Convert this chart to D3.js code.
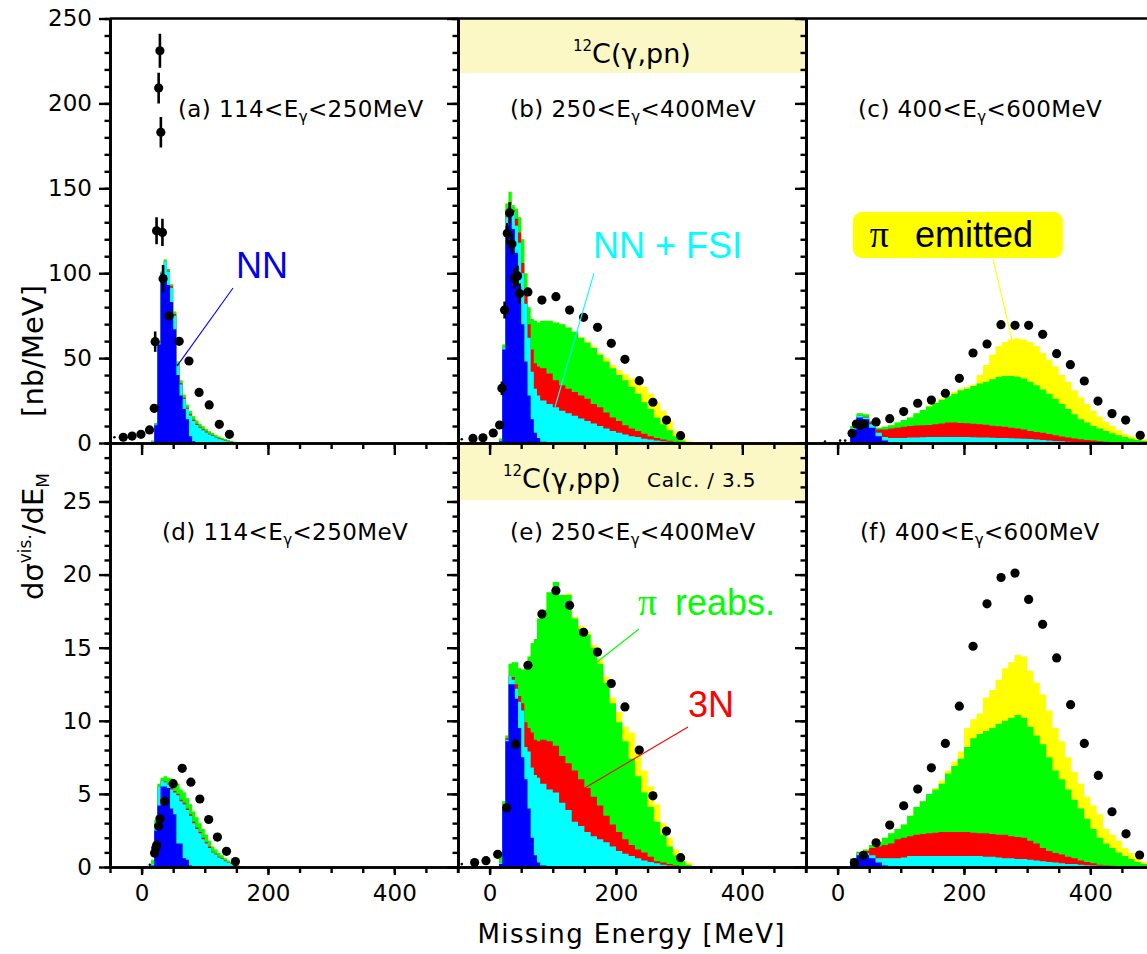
<!DOCTYPE html>
<html><head><meta charset="utf-8">
<script src="https://cdn.jsdelivr.net/npm/d3@7"></script>
<style>body{margin:0;background:#fff;}svg{display:block;}</style>
</head><body><svg id="c" width="1147" height="954"></svg>
<script>
// ---------------- DATA ----------------
// bin edges (MeV)
const edgesLow  = [15,20,25,30,35,40,45,50,55,60,65,70,75,80,85,90,95,100,105,110,115,120,125,130,135,140,145,150,155,160];
const edgesMid  = [15,20,25,30,35,40,45,50,55,60,65,70,75,80,90,100,110,120,130,140,150,160,170,180,190,200,210,220,230,240,250,260,270,280,290,300,310,320];
const edgesHigh = [20,30,40,50,60,70,80,90,100,110,120,130,140,150,160,170,180,190,200,210,220,230,240,250,260,270,280,290,300,310,320,330,340,350,360,370,380,390,400,410,420,430,440,450,460,470,480,490,500];

// Stacked calculation: upper edge of each stacked layer (NN, +FSI, +3N, +pi reabs., +pi emitted)
// (a) 12C(g,pn) 114<Eg<250 MeV   [nb/MeV]
const aNN    = [0.5,10.5,58,100,99,93,83,67,40,28,20,14,4,1,0.3,0,0,0,0,0,0,0,0,0,0,0,0,0,0];
const aFSI   = [1,10.8,59,100.5,107,101,91.5,75,45.8,34.5,25.9,20.1,16.2,13,10.6,9,7.5,6.2,5,4.2,3.2,2.5,1.9,1.3,0.9,0.5,0.3,0.1,0.1];
const a3N    = [1,10.8,59,100.5,107,101.5,92.5,76,46.5,35.2,26.6,20.8,16.9,13.7,11.3,9.6,8.1,6.7,5.5,4.7,3.6,2.9,2.2,1.6,1.1,0.7,0.4,0.2,0.1];
const aReabs = [1.5,11.8,60,101,108,102.5,93.5,77.5,48,37,28.4,22.6,18.7,15.7,13.3,11.4,9.8,8.2,6.9,5.9,4.7,3.9,3.1,2.4,1.8,1.2,0.8,0.4,0.2];
const aEmit  = [1.5,11.8,60,101,108,102.5,93.5,77.5,48,37,28.4,22.6,18.7,15.7,13.3,11.4,9.8,8.2,6.9,5.9,4.7,3.9,3.1,2.4,1.8,1.2,0.8,0.4,0.2];
// (b) 250<Eg<400 MeV
const bNN    = [1,55,128,134,126,112,92,70,48,28,14,6,3, 0.8,0.2,0,0,0,0,0,0,0,0,0,0,0,0,0,0,0,0,0,0,0,0,0,0];
const bFSI   = [1.5,56,133,141,136,128,118,100,82,62,42,32,28, 25,23,21,19,17.5,16,14.5,13,11.5,10,8.5,7,6,5,4,3.5,2.5,2,1.5,1,0.7,0.4,0.2,0.1];
const b3N    = [1.5,56,135,142,137,132,124,106,88,70,55,47,45, 44,41,37,34,32,30,28,26,23,21,18,15,13,10.5,8.5,7,5.5,4,3,2,1.3,0.8,0.4,0.2];
const bReabs = [2.7,58,141,148,140,138,133,120,100,80,73,72,71, 72,72,71,70,68,65.5,62,59,56,52,48,44,40,37,33,29,24,20,15,11,7.5,4,1.5,0.5];
const bEmit  = [2.7,58,141,148,140,138,133,120,100,80,73,72,71, 72,72,71,70,68,65.5,62.5,60,57,53,50,46,43,40.5,38,36,33,29,24,19,13,7,3,1];
// (c) 400<Eg<600 MeV
const cNN    = [8,15,14,9,4,1.5,0.3,0,0,0, 0,0,0,0,0,0,0,0,0,0, 0,0,0,0,0,0,0,0,0,0, 0,0,0,0,0,0,0,0,0,0, 0,0,0,0,0,0,0,0];
const cFSI   = [9,16,15,11,6,3.5,3,3,3,3.2, 3.3,3.4,3.5,3.5,3.5,3.6,3.6,3.5,3.5,3.4, 3.3,3.2,3.1,3,2.9,2.8,2.7,2.5,2.3,2, 1.8,1.5,1.2,1,0.8,0.6,0.5,0.4,0.3,0.2, 0.1,0.1,0.1,0,0,0,0,0];
const c3N    = [9,16,15.5,12,8,8,8.5,9,9.5,10, 10.3,10.5,10.6,11,11.5,12,12,11.8,11.6,11.3, 11,10.7,10.2,9.8,9.5,9,8.6,8,7,6.5, 6,5.3,4.5,3.8,3.2,2.6,2.2,1.8,1.4,1, 0.8,0.6,0.4,0.3,0.2,0.1,0.1,0];
const cReabs = [10,17.5,17,13,9,9.5,10.5,12,13.5,15, 17.5,19.5,21.5,23.5,25.5,27.5,29,31,32,33.5, 35,36,37.5,39,39.5,39.5,39,38,36,34, 31.5,29,26,23,20,17,14,12,10,8.5, 7,5.8,4.6,3.5,2.6,1.8,1.2,0.8];
const cEmit  = [10,17.5,17,13,9,9.5,10.5,12,13.5,15, 17.5,19.5,22,24,26,28,30,32,33,34.5, 40,46,52,57,59.5,61,61.5,61,59.5,57, 53,49,45,40,36,31,27,23,19,15.5, 12.5,10,7.5,5.5,4,3,2,1.2];
// (d) 12C(g,pp) 114<Eg<250 MeV (calc./3.5)
const dNN    = [0.1,2.5,4.2,5.5,5.5,5.4,4.0,3.6,1.6,1.6, 0.6,0.5,0.1,0,0,0,0,0,0,0, 0,0,0,0,0,0,0,0,0];
const dFSI   = [0.2,2.9,5.5,5.9,5.8,5.65,5.3,5.1,4.9,4.5, 4.3,3.9,3.5,3.0,2.6,2.3,1.9,1.6,1.3,1.0, 0.85,0.65,0.55,0.4,0.3,0.2,0.12,0.06,0.03];
const d3N    = [0.2,2.9,5.5,5.9,5.85,5.7,5.4,5.2,5.0,4.6, 4.4,4.0,3.6,3.1,2.7,2.4,2.0,1.7,1.4,1.05, 0.9,0.7,0.6,0.45,0.35,0.23,0.15,0.08,0.03];
const dReabs = [0.5,3.2,5.7,6.1,6.2,6.1,6.05,5.9,5.7,5.3, 5.1,4.7,4.3,3.8,3.4,3.0,2.6,2.2,1.8,1.4, 1.2,0.95,0.8,0.6,0.45,0.3,0.2,0.1,0.05];
const dEmit  = [0.5,3.2,5.7,6.1,6.2,6.1,6.05,5.9,5.7,5.3, 5.1,4.7,4.3,3.8,3.4,3.0,2.6,2.2,1.8,1.4, 1.2,0.95,0.8,0.6,0.45,0.3,0.2,0.1,0.05];
// (e) 250<Eg<400 MeV
const eNN    = [0.2,4,8.6,12.5,12.5,11.5,9.5,7.5,6,4,2,0.8,0.3, 0.1,0,0,0,0,0,0,0,0,0,0,0,0,0,0,0,0,0,0,0,0,0,0,0];
const eFSI   = [0.3,4.2,8.7,13.1,12.8,12.2,11.3,10.7,8.2,7.9,6.8,6.3,6.1, 5.7,5.3,5.1,4.4,3.9,3.1,2.8,2.4,2.1,1.9,1.7,1.4,1.1,0.9,0.75,0.6,0.45,0.35,0.25,0.15,0.1,0.05,0,0];
const e3N    = [0.3,4.3,8.8,13.1,13.0,12.5,11.7,11.2,9.9,9.5,9.2,8.7,8.6, 8.7,8.6,8.3,7.6,7.1,6.6,6.0,5.4,4.8,4.2,3.5,2.9,2.4,1.9,1.5,1.2,1.0,0.7,0.4,0.3,0.2,0.1,0.05,0];
const eReabs = [0.8,4.5,9.0,13.9,14.0,14.0,13.6,13.5,13.9,14.4,15.3,15.6,17.0, 17.6,18.8,19.5,18.6,18.6,17.0,16.3,15.9,15.0,13.9,12.6,11.2,9.9,8.6,7.4,6.2,5.1,4.1,3.1,2.2,1.4,0.8,0.4,0.15];
const eEmit  = [0.8,4.5,9.0,13.9,14.0,14.0,13.6,13.5,13.9,14.4,15.3,15.6,17.0, 17.6,18.8,19.5,18.6,18.7,17.1,16.5,16.1,15.2,14.2,13.0,11.6,10.6,9.6,9.2,8.0,6.6,5.5,4.3,3.0,2.0,1.2,0.7,0.3];
// (f) 400<Eg<600 MeV
const fNN    = [0.4,0.8,0.8,0.6,0.3,0.1,0,0,0,0, 0,0,0,0,0,0,0,0,0,0, 0,0,0,0,0,0,0,0,0,0, 0,0,0,0,0,0,0,0,0,0, 0,0,0,0,0,0,0,0];
const fFSI   = [0.45,0.95,0.95,0.8,0.6,0.6,0.6,0.6,0.65,0.75, 0.75,0.75,0.75,0.75,0.75,0.75,0.75,0.75,0.75,0.75, 0.75,0.7,0.7,0.65,0.6,0.6,0.55,0.55,0.5,0.45, 0.4,0.35,0.3,0.25,0.2,0.2,0.15,0.12,0.1,0.08, 0.05,0.04,0.03,0.02,0.01,0,0,0];
const f3N    = [0.5,1.0,1.1,1.3,1.4,1.5,1.6,1.9,2.0,2.1, 2.2,2.25,2.3,2.35,2.4,2.4,2.4,2.4,2.4,2.35, 2.3,2.3,2.25,2.2,2.2,2.1,2.05,2.0,1.8,1.6, 1.3,1.1,0.95,0.85,0.7,0.6,0.45,0.35,0.25,0.15, 0.1,0.08,0.05,0.03,0.02,0.01,0,0];
const fReabs = [0.6,1.05,1.2,1.5,1.7,2.0,2.3,2.6,2.9,3.5, 4.1,4.5,5.0,5.3,5.7,6.4,6.9,7.4,8.2,8.8, 9.1,9.3,9.5,9.8,10.0,10.2,10.4,10.2,9.6,9.0, 8.4,7.5,6.6,6.0,5.3,4.6,4.0,3.3,2.6,2.0, 1.6,1.3,1.0,0.75,0.55,0.35,0.2,0.1];
const fEmit  = [0.6,1.05,1.2,1.5,1.7,2.0,2.3,2.6,2.9,3.5, 4.1,4.5,5.0,5.4,5.9,6.6,7.2,7.9,9.5,10.1, 10.5,11.6,12.1,12.8,13.6,14.0,14.5,14.4,13.4,12.6, 11.8,10.7,9.5,8.6,7.5,6.5,5.7,4.8,4.2,3.6, 2.6,2.2,1.8,1.3,0.95,0.6,0.35,0.2];

// Measured points: [missing energy, value, error]
const aPts = [[-29,3.4,0],[-15,4.1,0],[-1,5.1,0],[12.6,7.7,0],[20,20.4,2.5],[21.5,59.7,6],[23.7,125,8],[33,124,8],[27,209,9],[29,231,10],[30.5,183,9],[34,96.8,8],[43.7,74.8,0],[59.5,59.9,0],[75,48.3,0],[91,29.8,0],[107,22.4,0],[123,11,0],[139,5.1,0]];
const bPts = [[-26.3,2.7,0],[-10.5,3.1,0],[5.8,5.9,0],[15.8,10.6,0],[19.5,32.2,4],[23.8,78.3,5],[28,123.5,6],[31.7,135.6,6],[35.4,117.2,6],[39.6,97,6],[44.3,98.4,6],[47.5,88,6],[60.7,89,0],[82.8,84.2,0],[105,86.2,0],[126.6,78.3,0],[148.8,74,0],[170.9,68.1,0],[192.6,58.7,0],[214.2,49.3,0],[236.9,36.7,0],[258.5,24,0],[280,13.5,0],[302.3,4.3,0]];
const cPts = [[22.9,5.7,0],[29.7,11.2,0],[36,10.4,0],[41.4,11.2,0],[60.9,12.4,0],[82.5,14.3,0],[104.6,18.5,0],[126.8,23.4,0],[148.4,25.3,0],[170.6,29.3,0],[192.7,38.1,0],[214.4,53,0],[236.5,58.3,0],[258.6,69.7,0],[280.8,69.3,0],[302.4,69.3,0],[324.6,64,0],[346.7,52.6,0],[368.4,46.1,0],[390.5,36.5,0],[412.1,24.7,0],[434.3,17.3,0],[455.9,13.5,0],[479,4.5,0]];
const dPts = [[20.5,0.95,0],[22.5,1.3,0],[24,1.5,0],[27,2.8,0],[29,3.3,0],[36.4,4.5,0],[50,5.7,0],[64.3,6.75,0],[78,5.8,0],[92.2,4.65,0],[106.2,3.25,0],[120,2.05,0],[134.4,1.07,0],[148.5,0.37,0]];
const ePts = [[-23.7,0.3,0],[-5.7,0.43,0],[12.8,0.87,0],[27,4.05,0],[41.2,8.4,0],[60.7,13.8,0],[82.8,17.3,0],[105,18.9,0],[126.6,17.9,0],[148.8,16.05,0],[170.9,14.7,0],[192.6,12.55,0],[214.2,10.95,0],[236.9,8.0,0],[258.5,4.87,0],[280,2.46,0],[302.3,0.64,0]];
const fPts = [[26.6,0.3,0],[40.8,0.8,0],[60.9,1.66,0],[82.5,2.87,0],[104.6,4.19,0],[126.8,5.33,0],[148.4,6.78,0],[170.6,8.45,0],[192.7,11.0,0],[214.4,15.1,0],[236.5,18.0,0],[258.7,19.8,0],[280.8,20.1,0],[302.4,18.3,0],[324.5,16.6,0],[346.7,14.3,0],[368.8,11.1,0],[390.5,8.45,0],[412.7,6.26,0],[434.3,3.78,0],[456.5,2.27,0],[478,0.82,0]];
// tiny (zero-size) points
const aTiny = [[-43,3.4]], bTiny = [[-44,2.2]], cTiny = [[-20,0.8],[4,1.4],[12,1.4]], dTiny = [[13,0.15]], eTiny = [[-44,0.2]], fTiny = [];

// axis settings
const xDomain = [-50, 500];
const xMajorTicks = [0, 200, 400];
const xMinorTicks = [-50,0,50,100,150,200,250,300,350,400,450,500];
const topMax = 250, botMax = 29;
const layerNames  = ["NN","NN + FSI","3N","π reabs.","π emitted"];
const layerColors = ["#0000ff","#00ffff","#ff0000","#00ff00","#ffff00"];

// ---------------- LAYOUT ----------------
const svg = d3.select("#c");
svg.append("rect").attr("width",1147).attr("height",954).attr("fill","#fff");
const colX = [110, 458, 806], PW = 347.5;
const rows = [
  {top:18.5, bot:443, max:topMax, major:50, minor:10, xMaj:12, xMin:6, labY:116.7},
  {top:443,  bot:867, max:botMax, major:5,  minor:1,  xMaj:8,  xMin:6, labY:540}
];
const FONT = "DejaVu Sans";
const defs = svg.append("defs");
const panels = [
  {id:"a",col:0,row:0,edges:edgesLow, layers:[aNN,aFSI,a3N,aReabs,aEmit],pts:aPts,tiny:aTiny,lx:178,pre:"(a) 114<E",post:"<250MeV"},
  {id:"b",col:1,row:0,edges:edgesMid, layers:[bNN,bFSI,b3N,bReabs,bEmit],pts:bPts,tiny:bTiny,lx:510,pre:"(b) 250<E",post:"<400MeV",header:"pn"},
  {id:"c",col:2,row:0,edges:edgesHigh,layers:[cNN,cFSI,c3N,cReabs,cEmit],pts:cPts,tiny:cTiny,lx:858,pre:"(c) 400<E",post:"<600MeV"},
  {id:"d",col:0,row:1,edges:edgesLow, layers:[dNN,dFSI,d3N,dReabs,dEmit],pts:dPts,tiny:dTiny,lx:162,pre:"(d) 114<E",post:"<250MeV"},
  {id:"e",col:1,row:1,edges:edgesMid, layers:[eNN,eFSI,e3N,eReabs,eEmit],pts:ePts,tiny:eTiny,lx:510,pre:"(e) 250<E",post:"<400MeV",header:"pp"},
  {id:"f",col:2,row:1,edges:edgesHigh,layers:[fNN,fFSI,f3N,fReabs,fEmit],pts:fPts,tiny:fTiny,lx:860,pre:"(f) 400<E",post:"<600MeV"}
];
const scales = {};

panels.forEach(p => {
  const r = rows[p.row], x0 = colX[p.col];
  const xs = d3.scaleLinear().domain(xDomain).range([x0, x0 + PW]);
  const ys = d3.scaleLinear().domain([0, r.max]).range([r.bot, r.top]);
  scales[p.id] = {xs, ys};
  defs.append("clipPath").attr("id","clip"+p.id).append("rect")
    .attr("x",x0).attr("y",r.top).attr("width",PW).attr("height",r.bot-r.top);
  const g = svg.append("g");
  // header box
  if (p.header) {
    const hh = p.row===0 ? 54.5 : 57;
    g.append("rect").attr("x",x0).attr("y",r.top).attr("width",PW).attr("height",hh).attr("fill","#fbf8c6");
    const hy = p.row===0 ? 63 : 488;
    const hx = p.row===0 ? 573 : 503;
    const t = g.append("text").attr("x",hx).attr("y",hy).attr("font-family",FONT).attr("font-size",27).attr("fill","#000");
    t.append("tspan").attr("font-size",15).attr("dy",-12).text("12");
    t.append("tspan").attr("dy",12).text("C(γ," + p.header + ")");
    if (p.row===1) {
      g.append("text").attr("x",647).attr("y",hy-1).attr("font-family",FONT).attr("font-size",20)
        .attr("letter-spacing",0.8).attr("fill","#000").text("Calc. / 3.5");
    }
  }
  // stacked histogram: draw tallest layer first
  const hg = g.append("g").attr("clip-path","url(#clip"+p.id+")");
  const area = d3.area().curve(d3.curveStepAfter).x(d=>xs(d[0])).y0(ys(0)).y1(d=>ys(d[1]));
  for (let k = 4; k >= 0; k--) {
    const vals = p.layers[k];
    const data = p.edges.map((e,i) => [e, vals[Math.min(i, vals.length-1)]]);
    hg.append("path").datum(data).attr("d",area).attr("fill",layerColors[k]).attr("stroke","none");
  }
  // panel label
  const lt = g.append("text").attr("x",p.lx).attr("y",r.labY).attr("font-family",FONT)
    .attr("font-size",23).attr("letter-spacing",0.4).attr("fill","#000");
  lt.append("tspan").text(p.pre);
  lt.append("tspan").attr("font-size",15).attr("dy",5).text("γ");
  lt.append("tspan").attr("dy",-5).text(p.post);
  // data points
  const pg = g.append("g").attr("clip-path","url(#clip"+p.id+")");
  pg.selectAll("line.err").data(p.pts.filter(d=>d[2]>0)).enter().append("line")
    .attr("x1",d=>xs(d[0])).attr("x2",d=>xs(d[0]))
    .attr("y1",d=>ys(d[1]-d[2])).attr("y2",d=>ys(d[1]+d[2]))
    .attr("stroke","#000").attr("stroke-width",2.6);
  pg.selectAll("circle.pt").data(p.pts).enter().append("circle")
    .attr("cx",d=>xs(d[0])).attr("cy",d=>ys(d[1])).attr("r",4.6).attr("fill","#000");
  pg.selectAll("circle.tiny").data(p.tiny).enter().append("circle")
    .attr("cx",d=>xs(d[0])).attr("cy",d=>ys(d[1])).attr("r",1.3).attr("fill","#000");
});

// ---------------- ANNOTATIONS ----------------
function annLine(id, p1, p2, color) {
  const {xs, ys} = scales[id];
  svg.append("line").attr("x1",xs(p1[0])).attr("y1",ys(p1[1])).attr("x2",xs(p2[0])).attr("y2",ys(p2[1]))
    .attr("stroke",color).attr("stroke-width",1.1);
}
function annText(id, e, v, txt, color, font, size) {
  const {xs, ys} = scales[id];
  return svg.append("text").attr("x",xs(e)).attr("y",ys(v)).attr("font-family",font||"Liberation Sans")
    .attr("font-size",size||36).attr("fill",color).text(txt);
}
// NN
annLine("a",[144.7,91.3],[56,45.3],"#0000ff");
annText("a",149.4,97.2,layerNames[0],"#0000ee");
// NN + FSI
annLine("b",[165.2,100.1],[103.5,21.2],"#00ffff");
annText("b",163.7,109,layerNames[1],"#00ffff");
// pi emitted
(function(){
  const {xs, ys} = scales["c"];
  svg.append("rect").attr("x",xs(24.1)).attr("y",ys(136)).attr("width",xs(356.5)-xs(24.1)).attr("height",ys(109)-ys(136))
    .attr("rx",9).attr("fill","#ffff00");
  annText("c",51,115.4,"π","#000","Liberation Serif",38);
  annText("c",122.6,115.4,"emitted","#000");
  annLine("c",[245.9,108.4],[276,60.7],"#ffff00");
})();
// pi reabs.
annLine("e",[236.5,16.28],[170,14.02],"#00ff00");
annText("e",235,17.24,"π","#00ff00","Liberation Serif",38);
annText("e",293.4,17.24,"reabs.","#00ff00");
// 3N
annLine("e",[314,9.58],[139.9,5.13],"#ff0000");
annText("e",314,10.26,layerNames[2],"#ff0000");

// ---------------- AXES ----------------
function styleAxis(sel, labels) {
  sel.select(".domain").attr("stroke","#000").attr("stroke-width",2.7);
  sel.selectAll(".tick line").attr("stroke","#000").attr("stroke-width",2.4);
  sel.selectAll(".tick text").attr("font-family",FONT).attr("font-size",23).attr("fill","#000");
}
panels.forEach(p => {
  const r = rows[p.row], x0 = colX[p.col];
  const {xs, ys} = scales[p.id];
  // y axis, ticks pointing left
  const yMin = d3.axisLeft(ys).tickValues(d3.range(0, r.max + 1e-9, r.minor)).tickSize(5.5).tickSizeOuter(0).tickFormat("");
  const yMaj = d3.axisLeft(ys).tickValues(d3.range(0, r.max + 1e-9, r.major)).tickSize(11).tickSizeOuter(0).tickPadding(7)
    .tickFormat(p.col===0 ? d3.format("d") : "");
  const gy1 = svg.append("g").attr("transform",`translate(${x0},0)`).call(yMin); styleAxis(gy1);
  const gy2 = svg.append("g").attr("transform",`translate(${x0},0)`).call(yMaj); styleAxis(gy2);
  // x axis, ticks pointing down
  const xMin = d3.axisBottom(xs).tickValues(xMinorTicks).tickSize(r.xMin).tickSizeOuter(0).tickFormat("");
  const xMaj = d3.axisBottom(xs).tickValues(xMajorTicks).tickSize(r.xMaj).tickSizeOuter(0).tickPadding(10)
    .tickFormat(p.row===1 ? d3.format("d") : "");
  const gx1 = svg.append("g").attr("transform",`translate(0,${r.bot})`).call(xMin); styleAxis(gx1);
  const gx2 = svg.append("g").attr("transform",`translate(0,${r.bot})`).call(xMaj); styleAxis(gx2);
});
// frame: top border and right border
svg.append("line").attr("x1",colX[0]).attr("x2",1147).attr("y1",18.5).attr("y2",18.5).attr("stroke","#000").attr("stroke-width",2.7);
svg.append("line").attr("x1",colX[2]+PW).attr("x2",colX[2]+PW).attr("y1",18.5).attr("y2",867).attr("stroke","#000").attr("stroke-width",2.7);

// ---------------- TITLES ----------------
svg.append("text").attr("x",631).attr("y",943).attr("text-anchor","middle").attr("font-family",FONT)
  .attr("font-size",26).attr("fill","#000").attr("textLength",307).attr("lengthAdjust","spacing").text("Missing Energy [MeV]");
const yt1 = svg.append("text").attr("transform","translate(43,600) rotate(-90)").attr("font-family",FONT)
  .attr("font-size",29).attr("fill","#000");
yt1.append("tspan").text("dσ");
yt1.append("tspan").attr("font-size",17).attr("dy",-12).text("vis.");
yt1.append("tspan").attr("dy",12).text("/dE");
yt1.append("tspan").attr("font-size",17).attr("dy",6).text("M");
svg.append("text").attr("transform","translate(43,285) rotate(-90)").attr("text-anchor","end").attr("font-family",FONT)
  .attr("font-size",29).attr("fill","#000").text("[nb/MeV]");
</script></body></html>
